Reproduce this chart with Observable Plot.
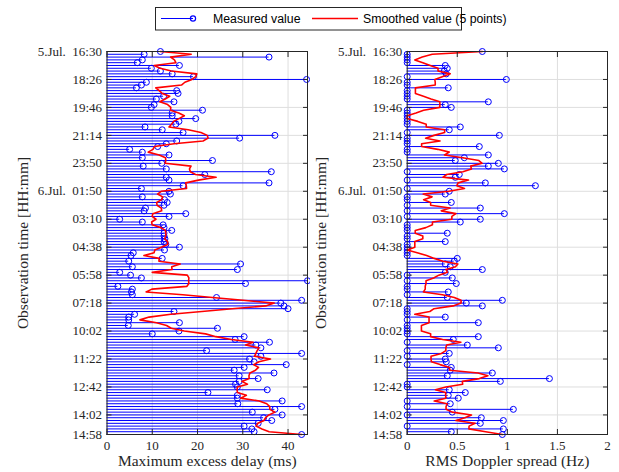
<!DOCTYPE html>
<html>
<head>
<meta charset="utf-8">
<script src="https://cdn.jsdelivr.net/npm/d3@7"></script>
<script src="https://cdn.jsdelivr.net/npm/@observablehq/plot@0.6"></script>
<style>
  body { margin: 0; background: #fff; }
  #wrap { position: relative; width: 619px; height: 472px; background: #fff; overflow: hidden; }
  #legend { position: absolute; left: 0; top: 0; }
  #left { position: absolute; left: 0; top: 40px; }
  #right { position: absolute; left: 310px; top: 40px; }
</style>
</head>
<body>
<div id="wrap">
  <svg id="legend" width="619" height="40" font-family="'Liberation Sans', Arial, sans-serif" font-size="12.3">
    <rect x="155.5" y="7.5" width="306" height="22.5" fill="#fff" stroke="#262626" stroke-width="1"></rect>
    <line x1="161" y1="18.5" x2="193" y2="18.5" stroke="#0000ff" stroke-width="1"></line>
    <circle cx="193" cy="18.5" r="2.6" fill="none" stroke="#0000ff" stroke-width="1.2"></circle>
    <text x="213" y="22.8" fill="#000">Measured value</text>
    <line x1="312" y1="18.5" x2="358" y2="18.5" stroke="#ff0000" stroke-width="1.5"></line>
    <text x="363" y="22.8" fill="#000">Smoothed value (5 points)</text>
  </svg>
  <div id="left"></div>
  <div id="right"></div>
</div>
<script>
// Maximum excess delay (ms), one value per observation (top to bottom)
const delayMs = [
  11.8, 8.2, 35.8, 7.8, 6.7, 16.0, 9.8, 11.8, 14.4, 19.1,
  44.1, 8.7, 7.6, 6.5, 15.4, 15.7, 12.5, 10.9, 14.8, 10.4,
  9.8, 21.1, 14.4, 14.4, 19.6, 15.9, 15.2, 8.4, 12.2, 16.8,
  37.1, 29.3, 15.4, 13.1, 11.2, 5.0, 7.8, 13.7, 7.8, 23.3,
  12.1, 8.0, 13.1, 36.3, 21.6, 13.1, 13.7, 35.8, 16.8, 7.6,
  13.7, 14.0, 7.8, 12.7, 13.3, 12.6, 8.5, 8.2, 17.4, 13.7,
  2.8, 7.8, 12.4, 12.6, 14.3, 12.6, 12.6, 12.8, 12.6, 13.0,
  16.0, 12.7, 5.8, 5.3, 12.2, 4.8, 29.5, 5.6, 28.8, 2.8,
  5.2, 7.6, 44.3, 30.6, 2.4, 5.6, 5.4, 5.6, 24.2, 43.0,
  38.4, 39.1, 40.0, 14.8, 6.1, 4.8, 4.8, 16.0, 4.7, 24.4,
  15.9, 10.0, 30.3, 28.3, 35.9, 32.9, 34.0, 22.0, 43.0, 34.0,
  31.5, 32.5, 39.6, 30.3, 28.1, 36.9, 29.2, 33.4, 29.2, 28.4,
  28.8, 35.4, 22.3, 28.8, 28.8, 38.7, 28.9, 43.0, 37.1, 32.1,
  38.7, 34.6, 36.4, 33.4, 30.3, 32.0, 32.5, 43.0
];

// RMS Doppler spread (Hz)
const dopplerHz = [
  0.75, 0, 0, 0, 0, 0.38, 0.40, 0.37, 0.39, 0,
  0.99, 0, 0, 0.41, 0, 0, 0, 0, 0.81, 0.38,
  0.44, 0, 0, 0, 0, 0, 0, 0.53, 0.42, 0,
  0.92, 0, 0, 0, 0.72, 0, 0, 0.81, 0.57, 0.48,
  0.91, 0.81, 0.97, 0, 0.52, 0.48, 0, 0.78, 1.28, 0,
  0.42, 0.38, 0, 0, 0.44, 0, 0.73, 0, 0.97, 0,
  0.73, 0.53, 0, 0, 0, 0.40, 0, 0, 0.38, 0,
  0, 0, 0, 0, 0.50, 0.47, 0.38, 0.43, 0.75, 0.38,
  0, 0.45, 0, 0.49, 0, 0, 0.41, 0, 0.40, 0.95,
  0.59, 0.75, 0, 0, 0, 0.38, 0, 0.71, 0, 0,
  0, 0, 0.71, 0.46, 0, 0.60, 0.91, 0, 0.42, 0,
  0.38, 0.39, 0, 0.44, 0.43, 0.85, 0.40, 1.42, 0.93, 0,
  0, 0.42, 0.58, 0.41, 0.51, 0, 0.43, 0, 1.06, 0.45,
  0, 0.74, 0.96, 0.73, 0, 0.96, 0.44, 0.95
];

// Y-axis ticks: observation index and its label
const yTickIndex = [0, 10, 20, 30, 40, 50, 60, 70, 80, 90, 100, 110, 120, 130, 137];
const yTickLabels = ["5.Jul.  16:30", "18:26", "19:46", "21:14", "23:50", "6.Jul.  01:50", "03:10",
                     "04:38", "05:58", "07:18", "10:02", "11:22", "12:42", "14:02", "14:58"];

const delayTicks = [0, 10, 20, 30, 40];
const dopplerTicks = [0, 0.5, 1, 1.5, 2];
const delayMax = 44.3;
const dopplerMax = 2;

// MATLAB-style smooth(): centered 5-point moving average, span shrinking at the ends
function smooth5(values) {
  const n = values.length;
  return Array.from(values, (_, i) => {
    const h = Math.min(2, i, n - 1 - i);
    let s = 0;
    for (let j = i - h; j <= i + h; ++j) s += values[j];
    return s / (2 * h + 1);
  });
}

function panel({values, xmax, xticks, xlabel, width, marginLeft, marginRight, ylabelOffset}) {
  const rows = values.map((v, i) => ({i, v}));
  const n = values.length;
  const grid = "#dedede";
  return Plot.plot({
    width, height: 432,
    marginTop: 11, marginBottom: 38, marginLeft, marginRight,
    style: {fontFamily: "'Liberation Serif', 'Times New Roman', serif", fontSize: "13px", color: "#262626", background: "white", overflow: "visible"},
    x: {domain: [0, xmax]},
    y: {domain: [0, n - 1], reverse: true},
    marks: [
      Plot.gridX(xticks, {stroke: grid, strokeOpacity: 1}),
      Plot.gridY(yTickIndex, {stroke: grid, strokeOpacity: 1}),
      Plot.ruleY(rows, {y: "i", x1: 0, x2: "v", stroke: "#0000ff", strokeWidth: 1}),
      Plot.dot(rows, {x: "v", y: "i", r: 3, stroke: "#0000ff", strokeWidth: 1}),
      Plot.line(rows, Plot.mapX(smooth5, {x: "v", y: "i", stroke: "#ff0000", strokeWidth: 1.6})),
      Plot.axisX(xticks, {anchor: "bottom", tickSize: 0, tickPadding: 6, fill: "#262626",
        tickFormat: d => String(d), label: null}),
      Plot.axisX({anchor: "bottom", ticks: [], label: xlabel, labelAnchor: "center", labelArrow: "none",
        labelOffset: 31, fontSize: "15.5px", fill: "#262626"}),
      Plot.axisX(xticks, {anchor: "bottom", tickSize: -5, tickFormat: () => "", label: null, stroke: "#262626"}),
      Plot.axisX(xticks, {anchor: "top", tickSize: -5, tickFormat: () => "", label: null, stroke: "#262626"}),
      Plot.axisY(yTickIndex, {anchor: "left", tickSize: 0, tickPadding: 5, fill: "#262626",
        tickFormat: d => yTickLabels[yTickIndex.indexOf(d)], label: null}),
      Plot.axisY({anchor: "left", ticks: [], label: "Observation time [HH:mm]", labelAnchor: "center",
        labelArrow: "none", labelOffset: ylabelOffset, fontSize: "15.5px", fill: "#262626"}),
      Plot.axisY(yTickIndex, {anchor: "left", tickSize: -5, tickFormat: () => "", label: null, stroke: "#262626"}),
      Plot.axisY(yTickIndex, {anchor: "right", tickSize: -5, tickFormat: () => "", label: null, stroke: "#262626"}),
      Plot.frame({stroke: "#262626"})
    ]
  });
}

document.getElementById("left").append(panel({
  values: delayMs, xmax: delayMax, xticks: delayTicks, xlabel: "Maximum excess delay (ms)",
  width: 310, marginLeft: 106.5, marginRight: 3, ylabelOffset: 90
}));
document.getElementById("right").append(panel({
  values: dopplerHz, xmax: dopplerMax, xticks: dopplerTicks, xlabel: "RMS Doppler spread (Hz)",
  width: 309, marginLeft: 96.7, marginRight: 12, ylabelOffset: 92
}));
</script>
</body>
</html>
